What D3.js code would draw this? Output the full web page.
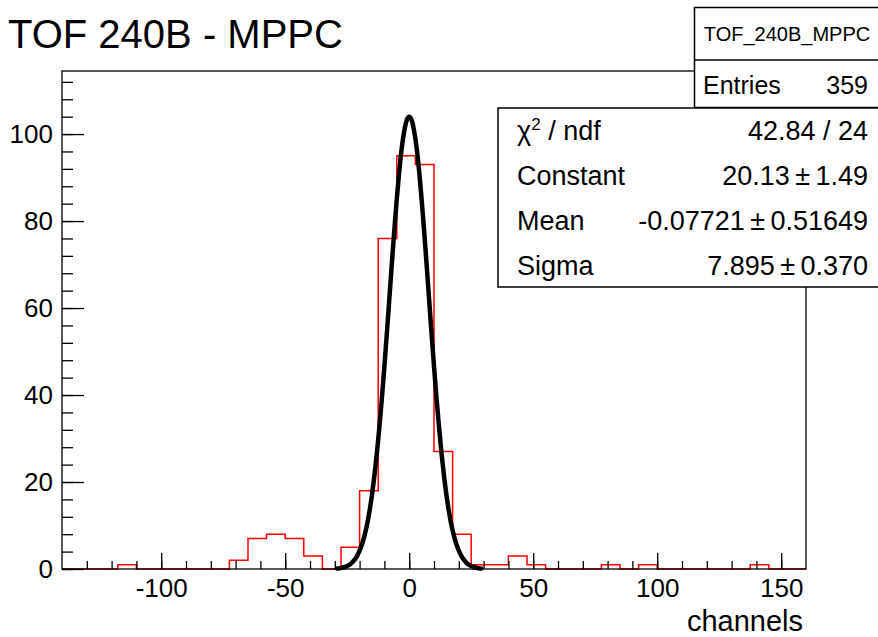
<!DOCTYPE html>
<html><head><meta charset="utf-8">
<script src="https://cdn.jsdelivr.net/npm/d3@7"></script>
<style>
body{margin:0;background:#fff}
svg{display:block}
text{font-family:"Liberation Sans",Arial,Helvetica,sans-serif;fill:#000}
</style>
</head><body>
<svg id="c" width="878" height="637"></svg>
<script>
// ---- data ----
const title = "TOF 240B - MPPC";
const histName = "TOF_240B_MPPC";
const entries = 359;
const binLow = -140, binWidth = 7.5;
const counts = [0,0,0,1,0,0,0,0,0,2,7,8,7,3,0,5,18,76,95,93,27,8,1,1,3,1,0,0,0,1,0,1,0,0,0,0,0,1,0,0];
const fitX = d3.range(-29, 30, 1);
const fitY = [0.12,0.19,0.30,0.46,0.69,1.02,1.49,2.14,3.02,4.20,5.74,7.73,10.2,13.3,17.1,21.6,26.8,32.8,39.4,46.6,54.3,62.2,70.2,77.9,85.1,91.5,96.8,100.7,103.2,104,
              103.2,100.7,96.8,91.5,85.1,77.9,70.2,62.2,54.3,46.6,39.4,32.8,26.8,21.6,17.1,13.3,10.2,7.73,5.74,4.20,3.02,2.14,1.49,1.02,0.69,0.46,0.30,0.19,0.12];
const statLabels = ["χ2 / ndf","Constant","Mean","Sigma"];
const statValues = ["42.84 / 24","20.13","-0.07721","7.895"];
const statErrors = [null,"1.49","0.51649","0.370"];
const xMajor = [-100,-50,0,50,100,150];
const xMinor = d3.range(-130, 160, 10);
const yMajor = [0,20,40,60,80,100];
const yMinor = d3.range(0, 114, 4);
const xTitle = "channels";
const xDomain = [-140, 160];
const yDomain = [0, 114.5];

// ---- layout ----
const svg = d3.select("#c");
const L = 62, R = 806, T = 71, B = 569;
const x = d3.scaleLinear().domain(xDomain).range([L, R]);
const y = d3.scaleLinear().domain(yDomain).range([B, T]);
const FONT = '"Liberation Sans",Arial,Helvetica,sans-serif';
const fmt = d => String(d);

// title
svg.append("text").attr("x", 8).attr("y", 48).attr("font-size", 40).text(title);

// histogram (step outline)
const pts = counts.map((c, i) => [binLow + i * binWidth, c]);
pts.push([binLow + counts.length * binWidth, counts[counts.length - 1]]);
svg.append("path")
  .attr("d", d3.line().x(d => x(d[0])).y(d => y(d[1])).curve(d3.curveStepAfter)(pts))
  .attr("fill", "none").attr("stroke", "#ff0000").attr("stroke-width", 1.5);

// fit curve
svg.append("path")
  .attr("d", d3.line().x((d, i) => x(fitX[i])).y(d => y(d)).curve(d3.curveMonotoneX)(fitY))
  .attr("fill", "none").attr("stroke", "#000").attr("stroke-width", 4.5)
  .attr("stroke-linecap", "round").attr("stroke-linejoin", "round");

// frame
svg.append("rect").attr("x", L).attr("y", T).attr("width", R - L).attr("height", B - T)
  .attr("fill", "none").attr("stroke", "#000").attr("stroke-width", 1.3);

// x axis
const gxMinor = svg.append("g").attr("transform", `translate(0,${B})`)
  .call(d3.axisBottom(x).tickValues(xMinor).tickSize(-8).tickFormat(""));
const gxMajor = svg.append("g").attr("transform", `translate(0,${B})`)
  .call(d3.axisBottom(x).tickValues(xMajor).tickSize(-16).tickPadding(9.5).tickFormat(fmt));
[gxMinor, gxMajor].forEach(g => { g.select(".domain").remove(); g.selectAll("line").attr("stroke", "#000").attr("stroke-width", 1.3); });
gxMajor.selectAll("text").attr("font-size", 26).attr("font-family", FONT).attr("fill", "#000");

// y axis
const gyMinor = svg.append("g").attr("transform", `translate(${L},0)`)
  .call(d3.axisLeft(y).tickValues(yMinor).tickSize(-11).tickFormat(""));
const gyMajor = svg.append("g").attr("transform", `translate(${L},0)`)
  .call(d3.axisLeft(y).tickValues(yMajor).tickSize(-22).tickPadding(9).tickFormat(fmt));
[gyMinor, gyMajor].forEach(g => { g.select(".domain").remove(); g.selectAll("line").attr("stroke", "#000").attr("stroke-width", 1.3); });
gyMajor.selectAll("text").attr("font-size", 26).attr("font-family", FONT).attr("fill", "#000");

// x title
svg.append("text").attr("x", 803).attr("y", 631).attr("text-anchor", "end")
  .attr("font-size", 29).text(xTitle);

// stats box 1
const b1 = {x: 694.5, y: 7.5, w: 200, h: 100};
svg.append("rect").attr("x", b1.x).attr("y", b1.y).attr("width", b1.w).attr("height", b1.h)
  .attr("fill", "#fff").attr("stroke", "#000").attr("stroke-width", 1.5);
svg.append("line").attr("x1", b1.x).attr("x2", b1.x + b1.w).attr("y1", 60).attr("y2", 60)
  .attr("stroke", "#000").attr("stroke-width", 1.5);
svg.append("text").attr("x", 787).attr("y", 41).attr("text-anchor", "middle")
  .attr("font-size", 20).text(histName);
svg.append("text").attr("x", 703).attr("y", 94).attr("font-size", 25).text("Entries");
svg.append("text").attr("x", 868).attr("y", 94).attr("text-anchor", "end").attr("font-size", 25).text(entries);

// fit box
const b2 = {x: 498, y: 108, w: 400, h: 179};
svg.append("rect").attr("x", b2.x).attr("y", b2.y).attr("width", b2.w).attr("height", b2.h)
  .attr("fill", "#fff").attr("stroke", "#000").attr("stroke-width", 1.5);
const rowH = 45;
statLabels.forEach((lab, i) => {
  const by = b2.y + rowH * i + 22.5 + 9.5;
  const t = svg.append("text").attr("x", 517).attr("y", by).attr("font-size", 27);
  if (i === 0) {
    t.append("tspan").text("χ");
    t.append("tspan").attr("font-size", 17).attr("dy", -10).text("2");
    t.append("tspan").attr("dy", 10).text(" / ndf");
  } else {
    t.text(lab);
  }
  const v = svg.append("text").attr("x", 868).attr("y", by).attr("text-anchor", "end").attr("font-size", 27);
  if (statErrors[i] === null) {
    v.text(statValues[i]);
  } else {
    v.text(statValues[i] + "\u2009±\u2009" + statErrors[i]);
  }
});
</script>
</body></html>
